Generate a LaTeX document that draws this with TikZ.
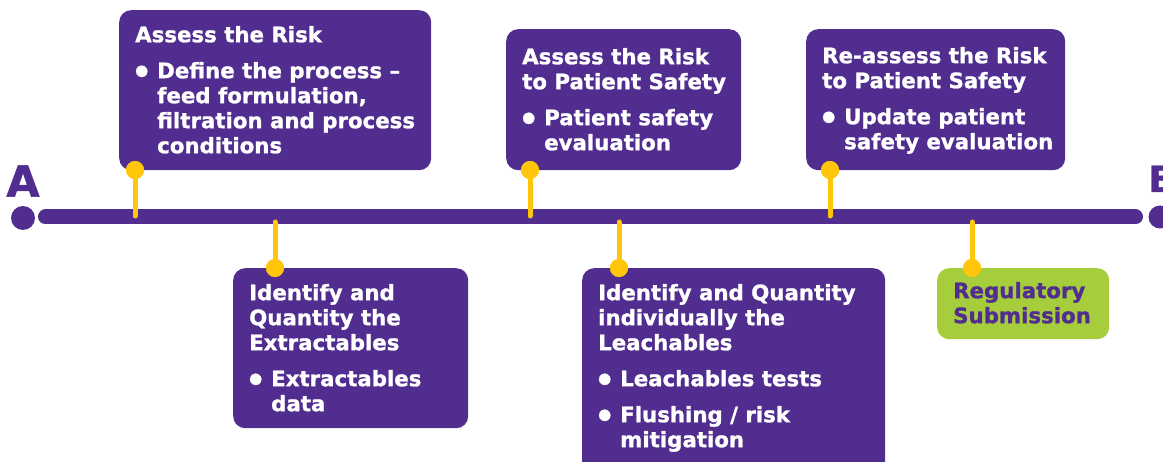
\documentclass[tikz,border=0pt]{standalone}
\usepackage{fontspec}
\setmainfont{DejaVu Sans}[BoldFeatures={FakeBold=1.2}]
\definecolor{pur}{HTML}{502D8E}
\definecolor{yel}{HTML}{FFC60B}
\definecolor{grn}{HTML}{A6CD3B}
\newcommand\bl{\makebox[22pt][l]{\raisebox{3pt}{\fontsize{15}{15}\selectfont ●}}}
\newcommand\ind{\makebox[22pt][l]{}}
\begin{document}
\begin{tikzpicture}[x=1pt,y=-1pt,
  box/.style={fill=pur, rounded corners=12pt, anchor=north west, inner sep=0pt},
  gbox/.style={fill=grn, rounded corners=12pt, anchor=north west, inner sep=0pt},
  txt/.style={anchor=north west, inner sep=0pt, align=left, text=white,
    font=\fontsize{21.3}{25}\selectfont\bfseries},
  conn/.style={draw=yel, line width=5pt, line cap=round},
  ydot/.style={circle, fill=yel, inner sep=0pt, minimum size=18pt},
  pdot/.style={circle, fill=pur, inner sep=0pt, minimum size=24pt},
  bar/.style={draw=pur, line width=15pt, line cap=round},
]
\useasboundingbox (0,0) rectangle (1163,462);
% timeline
\coordinate (L) at (45.5,217);
\coordinate (R) at (1135.5,217);
\draw[bar] (L) -- (R);
\node[pdot] (dA) at (23,218) {};
\node[pdot, minimum size=23pt] (dB) at (1160,217) {};
\node[inner sep=0pt, text=pur, font=\fontsize{43}{43}\selectfont\bfseries] (A) at (23,181) {A};
\node[inner sep=0pt, anchor=base west, text=pur, font=\fontsize{36}{36}\selectfont\bfseries] (B) at (1148,192) {B};

% boxes
\node[box, minimum width=312pt, minimum height=160pt] (b1) at (119,10) {};
\node[box, minimum width=235pt, minimum height=160pt] (b2) at (233,268) {};
\node[box, minimum width=235pt, minimum height=141pt] (b3) at (506,29) {};
\node[box, minimum width=303pt, minimum height=210pt] (b4) at (582,268) {};
\node[box, minimum width=259pt, minimum height=141pt] (b5) at (806,29) {};
\node[gbox, minimum width=172pt, minimum height=71pt] (b6) at (937,268) {};

% texts
\node[txt] (t1) at (135,24.5) {\strut Assess the Risk\\[11pt]
  \bl Define the process –\\ \ind feed formulation,\\ \ind filtration and process\\ \ind conditions};
\node[txt] (t2) at (249,282.5) {\strut Identify and\\ Quantity the\\ Extractables\\[11pt]
  \bl Extractables\\ \ind data};
\node[txt] (t3) at (522,46.5) {\strut Assess the Risk\\ to Patient Safety\\[11pt]
  \bl Patient safety\\ \ind evaluation};
\node[txt] (t4) at (598,282.5) {\strut Identify and Quantity\\ individually the\\ Leachables\\[11pt]
  \bl Leachables tests\\[11pt] \bl Flushing / risk\\ \ind mitigation};
\node[txt] (t5) at (822,45.5) {\strut Re-assess the Risk\\ to Patient Safety\\[11pt]
  \bl Update patient\\ \ind safety evaluation};
\node[txt, text=pur] (t6) at (953,280.5) {\strut Regulatory\\ Submission};

% connectors
\node[ydot] (y1) at (135,170) {};
\node[ydot] (y2) at (275,268) {};
\node[ydot] (y3) at (530,170) {};
\node[ydot] (y4) at (619,268) {};
\node[ydot] (y5) at (830,170) {};
\node[ydot] (y6) at (972,268) {};
\coordinate (c1) at (135,216);
\coordinate (c2) at (275,222);
\coordinate (c3) at (530,216);
\coordinate (c4) at (619,222);
\coordinate (c5) at (830,216);
\coordinate (c6) at (972,222);
\foreach \i in {1,...,6} \draw[conn] (c\i) -- (y\i.center);
\foreach \i in {1,...,6} \node[ydot] at (y\i) {};
\end{tikzpicture}
\end{document}
